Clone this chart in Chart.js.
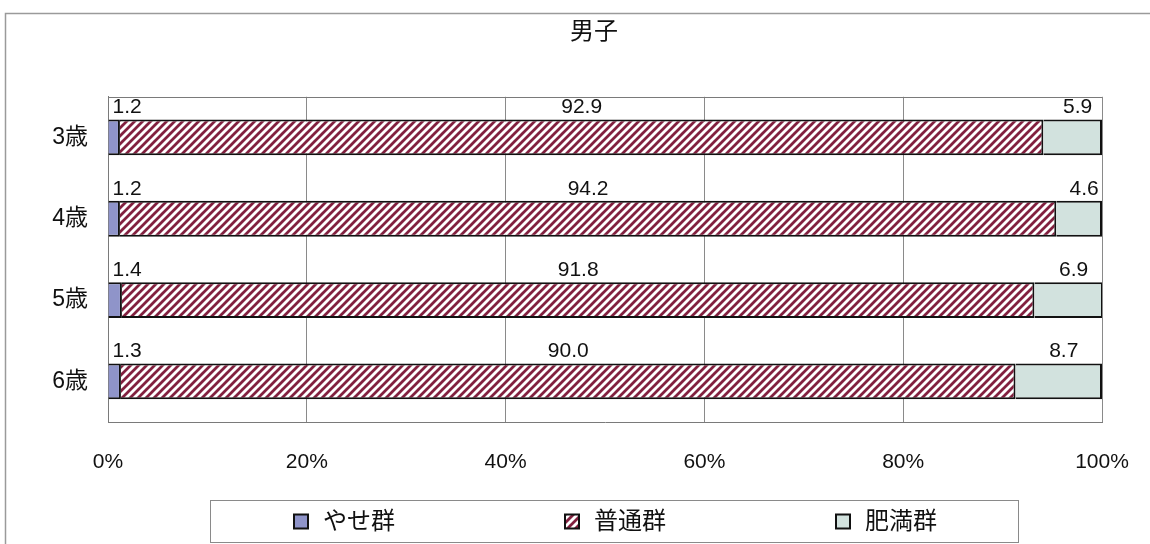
<!DOCTYPE html>
<html lang="ja">
<head>
<meta charset="utf-8">
<script src="https://cdn.jsdelivr.net/npm/chart.js@4.4.1/dist/chart.umd.min.js"></script>
<style>
  html, body { margin: 0; padding: 0; background: #fff; }
  #wrap { width: 1150px; height: 544px; }
</style>
</head>
<body>
<div id="wrap"><canvas id="c" width="1150" height="544"></canvas></div>
<script>
// 体格区分別の割合（%）
const ages = ['3歳', '4歳', '5歳', '6歳'];
const thin = [1.2, 1.2, 1.4, 1.3];       // やせ群
const normal = [92.9, 94.2, 91.8, 90.0]; // 普通群
const obese = [5.9, 4.6, 6.9, 8.7];      // 肥満群
const seriesNames = ['やせ群', '普通群', '肥満群'];
const xTicks = [0, 20, 40, 60, 80, 100];

const FONT = "'Liberation Sans', 'Noto Sans CJK JP', sans-serif";

// diagonal hatch used for 普通群
function makeHatch() {
  const s = 8;
  const p = document.createElement('canvas');
  p.width = s; p.height = s;
  const g = p.getContext('2d');
  g.fillStyle = '#ffffff';
  g.fillRect(0, 0, s, s);
  g.strokeStyle = '#82203f';
  g.lineWidth = 2.8;
  g.beginPath();
  g.moveTo(-2, s + 2); g.lineTo(s + 2, -2);
  g.moveTo(-2, 2); g.lineTo(2, -2);
  g.moveTo(s - 2, s + 2); g.lineTo(s + 2, s - 2);
  g.stroke();
  return g.createPattern(p, 'repeat');
}
const hatch = makeHatch();

// outer border, plot frame, title placement
const framePlugin = {
  id: 'frames',
  afterLayout(chart) {
    const t = chart.titleBlock;
    if (t) { t.left = chart.chartArea.left; t.right = chart.chartArea.right - 22; }
  },
  beforeDraw(chart) {
    const ctx = chart.ctx;
    ctx.save();
    ctx.fillStyle = '#fff';
    ctx.fillRect(0, 0, chart.width, chart.height);
    ctx.strokeStyle = '#9a9a9a';
    ctx.lineWidth = 1.5;
    ctx.strokeRect(5.5, 13.5, chart.width, chart.height);
    ctx.restore();
  },
  afterDatasetsDraw(chart) {
    const ctx = chart.ctx;
    const a = chart.chartArea;
    ctx.save();
    ctx.strokeStyle = '#7a7a7a';
    ctx.lineWidth = 1;
    ctx.beginPath();
    ctx.moveTo(a.left, Math.round(a.top) + 0.5);
    ctx.lineTo(a.right, Math.round(a.top) + 0.5);
    ctx.stroke();
    ctx.restore();
  }
};

// boxed legend below the axis, items spread evenly
const boxedLegend = {
  id: 'boxedLegend',
  afterDraw(chart) {
    const ctx = chart.ctx;
    const box = { x: 210.5, y: 500.5, w: 808, h: 42 };
    const step = 271;
    const firstMarker = 294;
    const cy = box.y + box.h / 2;
    ctx.save();
    ctx.strokeStyle = '#8a8a8a';
    ctx.lineWidth = 1;
    ctx.strokeRect(box.x, box.y, box.w, box.h);
    ctx.font = '24px ' + FONT;
    ctx.textBaseline = 'middle';
    ctx.textAlign = 'left';
    chart.data.datasets.forEach((ds, i) => {
      const mx = firstMarker + i * step;
      ctx.fillStyle = ds.backgroundColor;
      ctx.fillRect(mx, cy - 7, 14, 14);
      ctx.strokeStyle = '#111';
      ctx.lineWidth = 2;
      ctx.strokeRect(mx, cy - 7, 14, 14);
      ctx.fillStyle = '#111';
      ctx.fillText(ds.label, mx + 29, cy + 1);
    });
    ctx.restore();
  }
};

// value labels above each segment
const valueLabels = {
  id: 'valueLabels',
  afterDatasetsDraw(chart) {
    const ctx = chart.ctx;
    ctx.save();
    ctx.font = '21px ' + FONT;
    ctx.fillStyle = '#111';
    ctx.textBaseline = 'middle';
    chart.data.datasets.forEach((ds, di) => {
      const meta = chart.getDatasetMeta(di);
      meta.data.forEach((bar, i) => {
        const v = ds.data[i];
        const left = Math.min(bar.x, bar.base);
        const right = Math.max(bar.x, bar.base);
        const top = bar.y - bar.height / 2;
        let x;
        if (di === 0) { ctx.textAlign = 'left'; x = left + 4; }
        else { ctx.textAlign = 'center'; x = (left + right) / 2 + (di === 2 ? 5 : 0); }
        ctx.fillText(v.toFixed(1), x, top - 12);
      });
    });
    ctx.restore();
  }
};

new Chart(document.getElementById('c'), {
  type: 'bar',
  data: {
    labels: ages,
    datasets: [
      { label: seriesNames[0], data: thin, backgroundColor: '#8f94c9', borderColor: '#111', borderWidth: 2 },
      { label: seriesNames[1], data: normal, backgroundColor: hatch, borderColor: '#111', borderWidth: 2 },
      { label: seriesNames[2], data: obese, backgroundColor: '#d2e2de', borderColor: '#111', borderWidth: 2 }
    ]
  },
  options: {
    indexAxis: 'y',
    responsive: false,
    animation: false,
    devicePixelRatio: 1,
    barPercentage: 0.44,
    categoryPercentage: 1,
    layout: { padding: { top: 5, left: 5, right: 48, bottom: 50 } },
    scales: {
      x: {
        stacked: true,
        min: 0,
        max: 100,
        afterBuildTicks(s) { s.ticks = xTicks.map(v => ({ value: v })); },
        afterFit(s) { s.height = 72; s.paddingLeft = 0; s.paddingRight = 0; },
        grid: { color: '#8a8a8a', lineWidth: 1, drawTicks: false },
        border: { display: true, color: '#7a7a7a', width: 1 },
        ticks: {
          padding: 28,
          color: '#111',
          font: { family: FONT, size: 21 },
          callback: v => v + '%'
        }
      },
      y: {
        stacked: true,
        afterFit(s) { s.width = 103; },
        grid: { display: false, drawTicks: false },
        border: { display: true, color: '#7a7a7a', width: 1 },
        ticks: {
          padding: 20,
          color: '#111',
          font: { family: FONT, size: 23 }
        }
      }
    },
    plugins: {
      title: {
        display: true,
        text: '男子',
        color: '#111',
        font: { family: FONT, size: 24, weight: 'normal' },
        padding: { top: 13, bottom: 50 }
      },
      legend: { display: false },
      tooltip: { enabled: false }
    }
  },
  plugins: [framePlugin, boxedLegend, valueLabels]
});
</script>
</body>
</html>
